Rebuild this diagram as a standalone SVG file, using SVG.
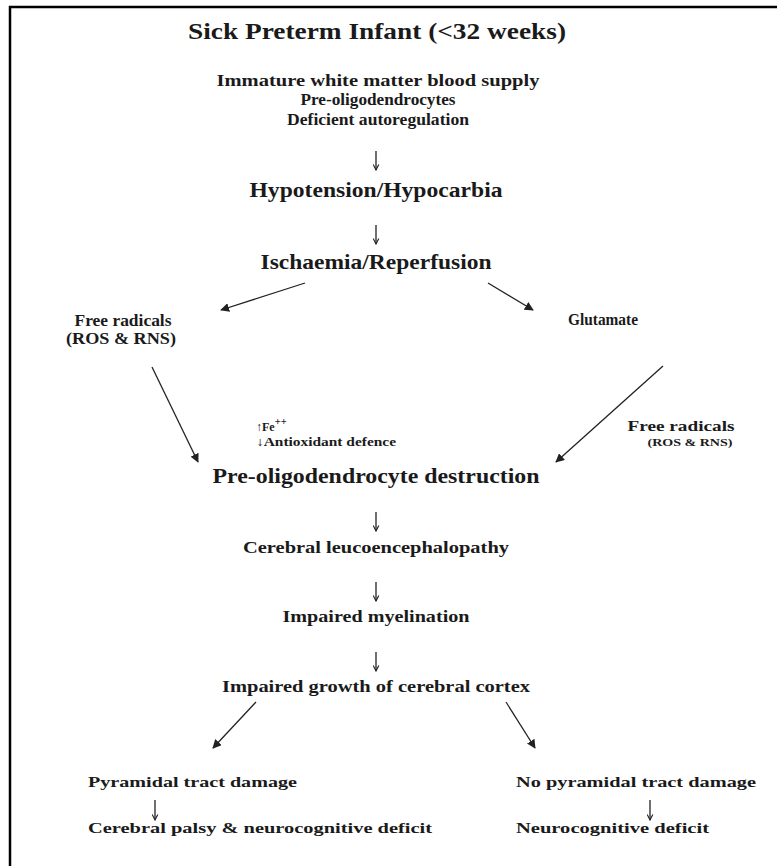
<svg xmlns="http://www.w3.org/2000/svg" width="777" height="866" viewBox="0 0 777 866">
<style>
text{font-family:"Liberation Serif","Times New Roman",serif;font-weight:bold;fill:#1a1a1a}
.c{text-anchor:middle}
.t24{font-size:24px}
.t16{font-size:16.5px}
.t21{font-size:21px}
.t15{font-size:15.5px}
.t14{font-size:14.5px}
.t12{font-size:12px}
.t10{font-size:10.5px}
.ln{stroke:#222;stroke-width:1.3;fill:none}
</style>
<defs>
<marker id="tri" viewBox="0 0 10 10" refX="9" refY="5" markerWidth="9" markerHeight="9" markerUnits="userSpaceOnUse" orient="auto">
<path d="M0,0 L10,5 L0,10 Z" fill="#222"/>
</marker>
<marker id="vee" viewBox="0 0 10 10" refX="9" refY="5" markerWidth="7" markerHeight="7" markerUnits="userSpaceOnUse" orient="auto">
<path d="M1,1 L9,5 L1,9" fill="none" stroke="#222" stroke-width="1.6"/>
</marker>
</defs>
<rect width="777" height="866" fill="#fff"/>
<path d="M10,866 V7 H777" fill="none" stroke="#000" stroke-width="2.5"/>

<g id="title"><text class="c t24" x="377" y="39" textLength="378" lengthAdjust="spacingAndGlyphs">Sick Preterm Infant (&lt;32 weeks)</text></g>
<g id="factors">
<text class="c t16" x="378" y="86" textLength="323" lengthAdjust="spacingAndGlyphs">Immature white matter blood supply</text>
<text class="c t16" x="378" y="105" textLength="155" lengthAdjust="spacingAndGlyphs">Pre-oligodendrocytes</text>
<text class="c t16" x="378" y="125" textLength="182" lengthAdjust="spacingAndGlyphs">Deficient autoregulation</text>
</g>
<g id="hypotension"><text class="c t21" x="376" y="197" textLength="253" lengthAdjust="spacingAndGlyphs">Hypotension/Hypocarbia</text></g>
<g id="ischaemia"><text class="c t21" x="376" y="269" textLength="231" lengthAdjust="spacingAndGlyphs">Ischaemia/Reperfusion</text></g>
<g id="free-radicals-left">
<text class="c t16" x="123" y="326" textLength="97" lengthAdjust="spacingAndGlyphs">Free radicals</text>
<text class="c t16" x="121" y="344" textLength="110" lengthAdjust="spacingAndGlyphs">(ROS &amp; RNS)</text>
</g>
<g id="glutamate"><text class="c t16" x="603" y="325" textLength="70" lengthAdjust="spacingAndGlyphs">Glutamate</text></g>
<g id="free-radicals-right">
<text class="c t15" x="681" y="431" textLength="107" lengthAdjust="spacingAndGlyphs">Free radicals</text>
<text class="c t10" x="690" y="446" textLength="85" lengthAdjust="spacingAndGlyphs">(ROS &amp; RNS)</text>
</g>
<g id="iron">
<text class="t12" x="256" y="431">↑Fe<tspan class="t10" dy="-6">++</tspan></text>
<text class="t12" x="256" y="446" textLength="140" lengthAdjust="spacingAndGlyphs">↓Antioxidant defence</text>
</g>
<g id="destruction"><text class="c t21" x="376" y="483" textLength="327" lengthAdjust="spacingAndGlyphs">Pre-oligodendrocyte destruction</text></g>
<g id="leuco"><text class="c t16" x="376" y="553" textLength="266" lengthAdjust="spacingAndGlyphs">Cerebral leucoencephalopathy</text></g>
<g id="myelination"><text class="c t16" x="376" y="622" textLength="187" lengthAdjust="spacingAndGlyphs">Impaired myelination</text></g>
<g id="cortex"><text class="c t16" x="376" y="692" textLength="308" lengthAdjust="spacingAndGlyphs">Impaired growth of cerebral cortex</text></g>
<g id="pyramidal"><text class="t15" x="88" y="787" textLength="209" lengthAdjust="spacingAndGlyphs">Pyramidal tract damage</text></g>
<g id="cerebral-palsy"><text class="t15" x="88" y="833" textLength="344" lengthAdjust="spacingAndGlyphs">Cerebral palsy &amp; neurocognitive deficit</text></g>
<g id="no-pyramidal"><text class="t15" x="516" y="787" textLength="240" lengthAdjust="spacingAndGlyphs">No pyramidal tract damage</text></g>
<g id="neurocognitive"><text class="t15" x="516" y="833" textLength="193" lengthAdjust="spacingAndGlyphs">Neurocognitive deficit</text></g>

<g id="connectors">
<line class="ln" x1="376" y1="151" x2="376" y2="170" marker-end="url(#vee)"/>
<line class="ln" x1="376" y1="225" x2="376" y2="244" marker-end="url(#vee)"/>
<line class="ln" x1="305" y1="283" x2="221" y2="310" marker-end="url(#tri)"/>
<line class="ln" x1="488" y1="283" x2="533" y2="310" marker-end="url(#tri)"/>
<line class="ln" x1="152" y1="367" x2="198" y2="462" marker-end="url(#tri)"/>
<line class="ln" x1="663" y1="366" x2="556" y2="462" marker-end="url(#tri)"/>
<line class="ln" x1="376" y1="512" x2="376" y2="531" marker-end="url(#vee)"/>
<line class="ln" x1="376" y1="582" x2="376" y2="601" marker-end="url(#vee)"/>
<line class="ln" x1="376" y1="652" x2="376" y2="671" marker-end="url(#vee)"/>
<line class="ln" x1="256" y1="702" x2="213" y2="748" marker-end="url(#tri)"/>
<line class="ln" x1="506" y1="702" x2="535" y2="748" marker-end="url(#tri)"/>
<line class="ln" x1="155" y1="800" x2="155" y2="820" marker-end="url(#vee)"/>
<line class="ln" x1="650" y1="800" x2="650" y2="820" marker-end="url(#vee)"/>
</g>
</svg>
